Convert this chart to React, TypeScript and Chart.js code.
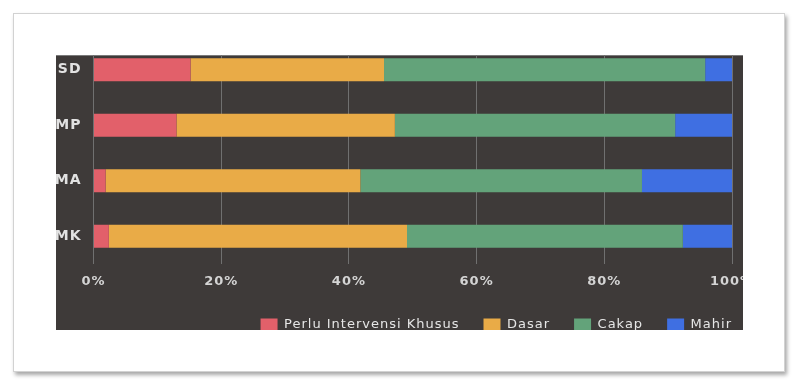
import React, { useEffect, useRef } from "react";
import { Chart, registerables } from "chart.js";

Chart.register(...registerables);

const categories = ["SD", "SMP", "SMA", "SMK"];
const perluIntervensi = [15.2, 13.0, 1.9, 2.4];
const dasar = [30.3, 34.2, 39.9, 46.7];
const cakap = [50.3, 43.9, 44.1, 43.2];
const mahir = [4.3, 8.9, 14.1, 7.7];
const seriesNames = ["Perlu Intervensi Khusus", "Dasar", "Cakap", "Mahir"];
const xTicks = [0, 20, 40, 60, 80, 100];

const spacingPlugin = {
  id: "letterSpacing",
  beforeLayout(chart: any) {
    chart.ctx.letterSpacing = "1px";
  },
  beforeDraw(chart: any) {
    chart.ctx.letterSpacing = "1px";
  },
};

export default function App() {
  const ref = useRef<HTMLCanvasElement | null>(null);
  useEffect(() => {
    if (!ref.current) return;
    const chart = new Chart(ref.current, {
      type: "bar",
      data: {
        labels: categories,
        datasets: [
          { label: seriesNames[0], data: perluIntervensi, backgroundColor: "#e2606a" },
          { label: seriesNames[1], data: dasar, backgroundColor: "#e9ab47" },
          { label: seriesNames[2], data: cakap, backgroundColor: "#63a37a" },
          { label: seriesNames[3], data: mahir, backgroundColor: "#3f6fe2" },
        ],
      },
      plugins: [spacingPlugin],
      options: {
        indexAxis: "y",
        animation: false,
        responsive: false,
        devicePixelRatio: 1,
        datasets: { bar: { categoryPercentage: 1, barPercentage: 0.41, borderWidth: 0 } },
        layout: { padding: { top: 22, left: 0, right: 0, bottom: 0 } },
        plugins: {
          tooltip: { enabled: false },
          legend: {
            position: "bottom",
            align: "end",
            labels: {
              color: "#e6e6e6",
              boxWidth: 17,
              boxHeight: 12,
              padding: 24,
              font: { family: "DejaVu Sans", size: 13 },
            },
          },
        },
        scales: {
          x: {
            stacked: true,
            min: 0,
            max: 100,
            afterBuildTicks: (s: any) => {
              s.ticks = xTicks.map((v) => ({ value: v }));
            },
            afterFit: (s: any) => {
              s.height = 30;
              s.paddingRight = 24;
            },
            grid: { color: "#707070", lineWidth: 1, drawTicks: false },
            border: { display: false },
            ticks: {
              color: "#d4d4d4",
              padding: 10,
              font: { family: "DejaVu Sans", size: 13, weight: "bold" },
              callback: (v: any) => v + "%",
            },
          },
          y: {
            stacked: true,
            afterFit: (s: any) => {
              s.width = 73.5;
            },
            grid: { display: false, drawTicks: false },
            border: { display: false },
            ticks: {
              color: "#e2e2e2",
              padding: 12,
              font: { family: "DejaVu Sans", size: 14, weight: "bold" },
            },
          },
        },
      },
    });
    return () => chart.destroy();
  }, []);

  return (
    <div style={{ position: "absolute", left: 0, top: 0, width: 800, height: 387, background: "#ffffff" }}>
      <div
        style={{
          position: "absolute",
          left: 13,
          top: 13,
          width: 770,
          height: 357,
          background: "#ffffff",
          border: "1px solid #d2d2d2",
          boxShadow: "2px 3px 4px rgba(0,0,0,0.35)",
        }}
      />
      <div
        style={{
          position: "absolute",
          left: 56,
          top: 55,
          width: 687,
          height: 275,
          background: "#3e3a39",
          overflow: "hidden",
          boxShadow: "inset 0 1px 0 #7a7a7a",
        }}
      >
        <canvas
          ref={ref}
          width={736}
          height={321}
          style={{ position: "absolute", left: -36, top: -35, width: 736, height: 321 }}
        />
      </div>
    </div>
  );
}
